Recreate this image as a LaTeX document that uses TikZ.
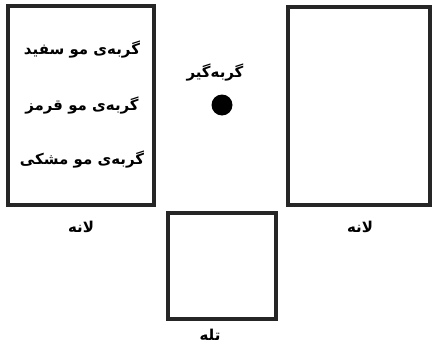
\documentclass[tikz,border=0pt]{standalone}
\usepackage{fontspec}
\TeXXeTstate=1
\newfontfamily\arabicfont[Script=Arabic]{DejaVu Sans}
\begin{document}
\begin{tikzpicture}[x=1pt,y=-1pt,
  box/.style={draw=black!85,line width=3.2pt,inner sep=0pt,rectangle},
  lbl/.style={font=\arabicfont\bfseries\fontsize{15}{18}\selectfont,inner sep=0pt},
  dot/.style={circle,fill=black,inner sep=0pt,minimum size=21pt}]
\useasboundingbox (0,0) rectangle (432,348);
\node[box,minimum width=146pt,minimum height=199pt] (nestL) at (81,105.5) {};
\node[box,minimum width=142pt,minimum height=198pt] (nestR) at (359,106) {};
\node[box,minimum width=108pt,minimum height=106pt] (trap) at (222,266) {};
\node[lbl] (c1) at (82,50) {\beginR گربه‌ی مو سفید\endR};
\node[lbl] (c2) at (82,106) {\beginR گربه‌ی مو قرمز\endR};
\node[lbl] (c3) at (82,160) {\beginR گربه‌ی مو مشکی\endR};
\node[lbl] (catcher) at (215,73) {\beginR گربه‌گیر\endR};
\node[dot] (d) at (222,105) {};
\node[lbl] (lL) at (81,227) {\beginR لانه\endR};
\node[lbl] (lR) at (360,227) {\beginR لانه\endR};
\node[lbl] (lT) at (210,335) {\beginR تله\endR};
\end{tikzpicture}
\end{document}
